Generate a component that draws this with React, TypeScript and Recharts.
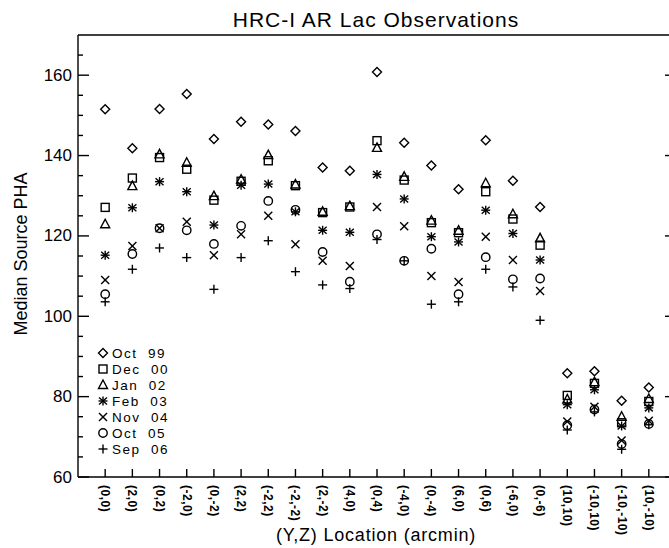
import React from 'react';
import { ScatterChart, Scatter, XAxis, YAxis } from 'recharts';

const locations = [
  '(0,0)', '(2,0)', '(0,2)', '(-2,0)', '(0,-2)', '(2,2)', '(-2,2)', '(-2,-2)', '(2,-2)', '(4,0)',
  '(0,4)', '(-4,0)', '(0,-4)', '(6,0)', '(0,6)', '(-6,0)', '(0,-6)', '(10,10)', '(-10,10)', '(-10,-10)', '(10,-10)'
];

const oct99 = [151.5, 141.8, 151.6, 155.3, 144.1, 148.4, 147.7, 146.1, 137.0, 136.2, 160.8, 143.2, 137.5, 131.6, 143.8, 133.7, 127.2, 85.8, 86.3, 79.0, 82.3];
const dec00 = [127.1, 134.4, 139.5, 136.6, 128.9, 133.6, 138.7, 132.5, 125.8, 127.2, 143.7, 133.9, 123.3, 120.8, 131.0, 124.2, 117.7, 80.3, 83.3, 73.5, 78.8];
const jan02 = [122.9, 132.4, 140.3, 138.2, 129.9, 134.0, 140.1, 132.8, 126.0, 127.4, 141.9, 134.7, 123.8, 121.3, 133.1, 125.4, 119.4, 79.3, 83.6, 75.0, 79.4];
const feb03 = [115.2, 127.0, 133.5, 131.0, 122.7, 132.6, 132.9, 126.0, 121.4, 120.9, 135.3, 129.2, 119.8, 118.5, 126.4, 120.6, 114.0, 78.0, 81.7, 72.7, 77.2];
const nov04 = [109.0, 117.5, 121.9, 123.5, 115.2, 120.4, 125.0, 117.9, 113.8, 112.5, 127.2, 122.4, 110.0, 108.5, 119.8, 114.0, 106.3, 73.8, 77.5, 69.1, 74.0];
const oct05 = [105.5, 115.5, 121.9, 121.4, 118.0, 122.5, 128.7, 126.5, 116.0, 108.6, 120.4, 113.8, 116.8, 105.5, 114.7, 109.2, 109.4, 72.9, 76.8, 68.2, 73.2];
const sep06 = [103.6, 111.7, 117.0, 114.6, 106.7, 114.6, 118.8, 111.1, 107.8, 106.9, 119.1, 113.8, 103.0, 103.6, 111.7, 107.3, 99.0, 71.7, 76.2, 66.9, 73.0];

const yTicks = [60, 65, 70, 75, 80, 85, 90, 95, 100, 105, 110, 115, 120, 125, 130, 135, 140, 145, 150, 155, 160, 165];
const xTicks = locations.map((_, i) => i);

const FONT = '"Liberation Sans", Arial, sans-serif';
const SW = 1.4;

type Sym = 'diamond' | 'square' | 'triangle' | 'asterisk' | 'cross' | 'circle' | 'plus';

function marker(sym: Sym, cx: number, cy: number) {
  const p = { stroke: '#000', strokeWidth: SW, fill: 'none' };
  switch (sym) {
    case 'diamond':
      return <polygon {...p} points={`${cx},${cy - 4.5} ${cx + 4.5},${cy} ${cx},${cy + 4.5} ${cx - 4.5},${cy}`} />;
    case 'square':
      return <rect {...p} x={cx - 4} y={cy - 4} width={8} height={8} />;
    case 'triangle':
      return <polygon {...p} points={`${cx},${cy - 5} ${cx + 4.5},${cy + 3.5} ${cx - 4.5},${cy + 3.5}`} />;
    case 'asterisk':
      return (
        <g {...p}>
          <line x1={cx} y1={cy - 4.5} x2={cx} y2={cy + 4.5} />
          <line x1={cx - 4} y1={cy - 3.5} x2={cx + 4} y2={cy + 3.5} />
          <line x1={cx - 4} y1={cy + 3.5} x2={cx + 4} y2={cy - 3.5} />
          <line x1={cx - 4.5} y1={cy} x2={cx + 4.5} y2={cy} />
        </g>
      );
    case 'cross':
      return (
        <g {...p}>
          <line x1={cx - 4} y1={cy - 4} x2={cx + 4} y2={cy + 4} />
          <line x1={cx - 4} y1={cy + 4} x2={cx + 4} y2={cy - 4} />
        </g>
      );
    case 'circle':
      return <circle {...p} cx={cx} cy={cy} r={4.2} />;
    default:
      return (
        <g {...p}>
          <line x1={cx - 4.5} y1={cy} x2={cx + 4.5} y2={cy} />
          <line x1={cx} y1={cy - 4.5} x2={cx} y2={cy + 4.5} />
        </g>
      );
  }
}

const series: { name: string; sym: Sym; values: number[] }[] = [
  { name: 'Oct  99', sym: 'diamond', values: oct99 },
  { name: 'Dec  00', sym: 'square', values: dec00 },
  { name: 'Jan  02', sym: 'triangle', values: jan02 },
  { name: 'Feb  03', sym: 'asterisk', values: feb03 },
  { name: 'Nov  04', sym: 'cross', values: nov04 },
  { name: 'Oct  05', sym: 'circle', values: oct05 },
  { name: 'Sep  06', sym: 'plus', values: sep06 },
];

const LeftTick = (props: any) => {
  const { x, y, payload } = props;
  const major = payload.value % 20 === 0;
  return (
    <g>
      <line x1={x} y1={y} x2={x + (major ? 11 : 5)} y2={y} stroke="#000" strokeWidth={SW} />
      {major && (
        <text x={x - 6} y={y} textAnchor="end" dominantBaseline="central" fontSize={17} fontFamily={FONT} fill="#000">
          {payload.value}
        </text>
      )}
    </g>
  );
};

const RightTick = (props: any) => {
  const { x, y, payload } = props;
  const major = payload.value % 20 === 0;
  return <line x1={x} y1={y} x2={x - (major ? 11 : 5)} y2={y} stroke="#000" strokeWidth={SW} />;
};

const TopTick = (props: any) => {
  const { x, y } = props;
  return <line x1={x} y1={y} x2={x} y2={y + 8} stroke="#000" strokeWidth={SW} />;
};

const BottomTick = (props: any) => {
  const { x, y, payload } = props;
  return (
    <g>
      <line x1={x} y1={y} x2={x} y2={y - 8} stroke="#000" strokeWidth={SW} />
      <text
        x={x}
        y={y + 8}
        transform={`rotate(90, ${x}, ${y + 8})`}
        textAnchor="start"
        dominantBaseline="central"
        fontSize={12}
        fontWeight="bold"
        letterSpacing={0.5}
        fontFamily={FONT}
        fill="#000"
      >
        {locations[payload.value]}
      </text>
    </g>
  );
};

const axisLine = { stroke: '#000', strokeWidth: SW };

// legend rows, drawn in the lower left corner of the plot
const LEG_X = 103;
const LEG_Y = 353;
const LEG_DY = 16;

export default function App() {
  return (
    <div style={{ position: 'absolute', left: 0, top: 0, width: 669, height: 548, overflow: 'hidden', background: '#fff' }}>
      <ScatterChart width={700} height={548} margin={{ top: 25, right: 14, bottom: 11, left: 18 }}>
        <XAxis
          xAxisId={0}
          type="number"
          dataKey="x"
          domain={[-1, 21]}
          ticks={xTicks}
          interval={0}
          allowDataOverflow
          height={60}
          tickSize={0}
          tickMargin={0}
          tickLine={false}
          axisLine={axisLine}
          tick={<BottomTick />}
        />
        <XAxis
          xAxisId="top"
          orientation="top"
          type="number"
          domain={[-1, 21]}
          ticks={xTicks}
          interval={0}
          allowDataOverflow
          height={10}
          tickSize={0}
          tickMargin={0}
          tickLine={false}
          axisLine={axisLine}
          tick={<TopTick />}
        />
        <YAxis
          yAxisId={0}
          type="number"
          dataKey="y"
          domain={[60, 170]}
          ticks={yTicks}
          interval={0}
          allowDataOverflow
          width={60}
          tickSize={0}
          tickMargin={0}
          tickLine={false}
          axisLine={axisLine}
          tick={<LeftTick />}
        />
        <YAxis
          yAxisId="right"
          orientation="right"
          type="number"
          domain={[60, 170]}
          ticks={yTicks}
          interval={0}
          allowDataOverflow
          width={10}
          tickSize={0}
          tickMargin={0}
          tickLine={false}
          axisLine={axisLine}
          tick={<RightTick />}
        />
        {series.map((s) => (
          <Scatter
            key={s.name}
            name={s.name}
            xAxisId={0}
            yAxisId={0}
            data={s.values.map((v, i) => ({ x: i, y: v }))}
            isAnimationActive={false}
            shape={(p: any) => marker(s.sym, p.cx, p.cy)}
          />
        ))}
      </ScatterChart>
      <svg width={669} height={548} style={{ position: 'absolute', left: 0, top: 0, pointerEvents: 'none' }}>
        <text x={376} y={27} textAnchor="middle" fontSize={21} letterSpacing={1} fontFamily={FONT} fill="#000">
          HRC-I AR Lac Observations
        </text>
        <text
          x={27}
          y={254}
          transform="rotate(-90, 27, 254)"
          textAnchor="middle"
          fontSize={18}
          fontFamily={FONT}
          fill="#000"
        >
          Median Source PHA
        </text>
        <text x={376} y={541} textAnchor="middle" fontSize={18} letterSpacing={0.8} fontFamily={FONT} fill="#000">
          (Y,Z) Location (arcmin)
        </text>
        {series.map((s, i) => (
          <g key={s.name}>
            {marker(s.sym, LEG_X, LEG_Y + i * LEG_DY)}
            <text
              x={LEG_X + 9}
              y={LEG_Y + i * LEG_DY + 5}
              fontSize={13.5}
              letterSpacing={1.5}
              fontFamily={FONT}
              fill="#000"
              style={{ whiteSpace: 'pre' }}
            >
              {s.name}
            </text>
          </g>
        ))}
      </svg>
    </div>
  );
}
